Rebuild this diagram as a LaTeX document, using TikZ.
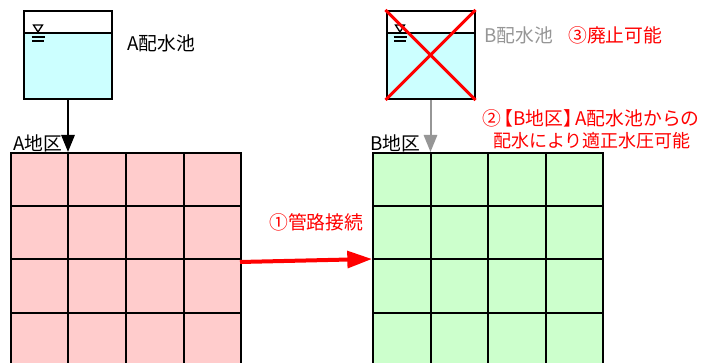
\documentclass[tikz,border=0pt]{standalone}
\usepackage{fontspec}
\setmainfont{Noto Sans CJK JP}
\usetikzlibrary{arrows.meta}
\definecolor{water}{HTML}{CCFFFF}
\definecolor{pinkcell}{HTML}{FFCCCC}
\definecolor{greencell}{HTML}{CCFFCC}
\definecolor{grayline}{HTML}{969696}
\definecolor{redline}{HTML}{FF0000}
\tikzset{
  line/.style={draw=black,line width=1.5pt},
  tankbox/.style={line,minimum width=66pt,minimum height=66pt,inner sep=0pt},
  gridbox/.style={line,minimum width=172.5pt,minimum height=159.75pt,inner sep=0pt},
  lab/.style={font=\fontsize{14.1pt}{16pt}\selectfont,inner sep=0pt,anchor=west},
  labred/.style={lab,text=redline},
  feed/.style={line width=1.5pt,-{Triangle[length=12.75pt,width=10pt]}},
  pipe/.style={draw=redline,line width=3pt,-{Triangle[length=18.5pt,width=12.5pt]}},
  cross/.style={draw=redline,line width=2.25pt},
  level/.style={draw=black,line width=1pt}
}
\begin{document}
\begin{tikzpicture}[x=0.75pt,y=-0.75pt]
\clip (0,0) rectangle (711,363);
\fill[white] (0,0) rectangle (711,363);
% grids
\node[gridbox,fill=pinkcell] (gridA) at (126,259.5) {};
\node[gridbox,fill=greencell] (gridB) at (488,259.5) {};
\foreach \gx/\xa/\xb/\xc/\xl/\xr in {A/68/126/184/11/241,B/431/488/546/373/603}{
  \draw[line] (\xa,153) -- (\xa,366) (\xb,153) -- (\xb,366) (\xc,153) -- (\xc,366);
  \draw[line] (\xl,206) -- (\xr,206) (\xl,259) -- (\xr,259) (\xl,313) -- (\xr,313);
}
% tanks
\node[tankbox,fill=white] (tankA) at (68,55) {};
\node[tankbox,fill=white] (tankB) at (430.5,55) {};
\foreach \xl/\xr/\sx in {24/112/38,386.5/474.5/400}{
  \fill[water] (\xl,33) rectangle (\xr,99);
  \draw[line] (\xl,11) rectangle (\xr,99);
  \draw[line] (\xl,33) -- (\xr,33);
  \draw[level,line join=miter] (\sx-4.5,25) -- (\sx+4.5,25) -- (\sx,32) -- cycle;
  \draw[level] (\sx-6.5,37) -- (\sx+6.5,37) (\sx-6,41) -- (\sx+6,41);
}
% feeds
\draw[feed,draw=black,fill=black] (tankA.south) -- (tankA.south |- gridA.north);
\draw[feed,draw=grayline,fill=grayline] (tankB.south) -- (tankB.south |- gridB.north);
% cross
\draw[cross] (tankB.north west) -- (tankB.south east);
\draw[cross] (tankB.north east) -- (tankB.south west);
% pipe
\coordinate (pipeS) at (240,262);
\coordinate (pipeE) at (372,259);
\draw[pipe,fill=redline] (pipeS) -- (pipeE);
% labels
\node[lab] (lA) at (127,43) {A配水池};
\node[lab] (dA) at (13,143) {A地区};
\node[lab] (dB) at (370,143) {B地区};
\node[lab,text=grayline] (lB) at (484,35) {B配水池};
\node[labred] (l3) at (568,35) {③廃止可能};
\node[labred,anchor=center] (l2a) at (591,118) {②\kern-5pt【B地区】\kern-5pt A配水池からの};
\node[labred,anchor=center,font=\fontsize{13.5pt}{16pt}\selectfont] (l2b) at (592,141) {配水により適正水圧可能};
\node[labred] (l1) at (269,222) {①管路接続};
\end{tikzpicture}
\end{document}
